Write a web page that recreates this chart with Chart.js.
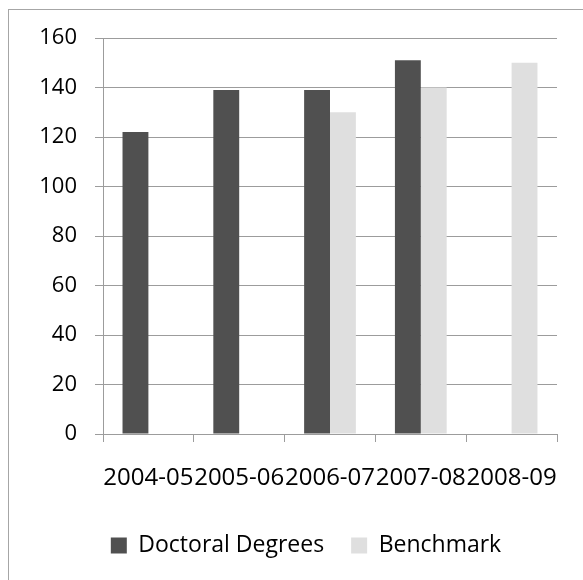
<!DOCTYPE html>
<html>
<head>
<meta charset="utf-8">
<script src="https://cdn.jsdelivr.net/npm/chart.js@4"></script>
<style>
  body { margin: 0; background: #fff; }
  #wrap { position: relative; width: 583px; height: 580px; overflow: hidden; }
  #frame { position: absolute; left: 8px; top: 9px; width: 620px; height: 620px; border: 1px solid #a6a6a6; }
  #chart { position: absolute; left: 0; top: 0; }
</style>
</head>
<body>
<div id="wrap">
  <div id="frame"></div>
  <canvas id="chart" width="583" height="580"></canvas>
</div>
<script>
// dados do gráfico
var years = ['2004-05', '2005-06', '2006-07', '2007-08', '2008-09'];
var doctoralDegrees = [122, 139, 139, 151, null];
var benchmark = [null, null, 130, 140, 150];
var yTicks = [0, 20, 40, 60, 80, 100, 120, 140, 160];

var fontFamily = '"Open Sans", sans-serif';
var gridColor = '#9c9c9c';

var ctx = document.getElementById('chart').getContext('2d');
var chart = new Chart(ctx, {
  type: 'bar',
  data: {
    labels: years,
    datasets: [{
      label: 'Doctoral Degrees',
      data: doctoralDegrees,
      backgroundColor: '#505050',
      borderWidth: 0,
      categoryPercentage: 0.57,
      barPercentage: 1
    }, {
      label: 'Benchmark',
      data: benchmark,
      backgroundColor: '#dfdfdf',
      borderWidth: 0,
      categoryPercentage: 0.57,
      barPercentage: 1
    }]
  },
  options: {
    responsive: false,
    animation: false,
    layout: { padding: { top: 38, right: 0, left: 29, bottom: 13 } },
    plugins: {
      tooltip: { enabled: false },
      legend: {
        position: 'bottom',
        labels: {
          boxWidth: 16,
          boxHeight: 16,
          padding: 27,
          color: '#000',
          font: { family: fontFamily, size: 23 }
        }
      }
    },
    scales: {
      x: {
        grid: { drawOnChartArea: false, tickLength: 8, color: gridColor, offset: true },
        border: { color: gridColor },
        ticks: {
          color: '#000',
          font: { family: fontFamily, size: 24 },
          maxRotation: 0,
          autoSkip: false,
          padding: 22
        },
        afterFit: function(scale) { scale.height = 73; }
      },
      y: {
        min: 0,
        max: 160,
        afterBuildTicks: function(scale) {
          scale.ticks = yTicks.map(function(v) { return { value: v }; });
        },
        grid: { tickLength: 8, color: gridColor },
        border: { color: gridColor },
        ticks: {
          color: '#000',
          font: { family: fontFamily, size: 22 },
          padding: 18
        },
        afterFit: function(scale) { scale.width = 74; }
      },
      // eixo vazio só para reservar a margem da direita
      yRight: {
        position: 'right',
        grid: { display: false },
        border: { display: false },
        ticks: { display: false },
        afterFit: function(scale) { scale.width = 26; }
      }
    }
  }
});
</script>
</body>
</html>
